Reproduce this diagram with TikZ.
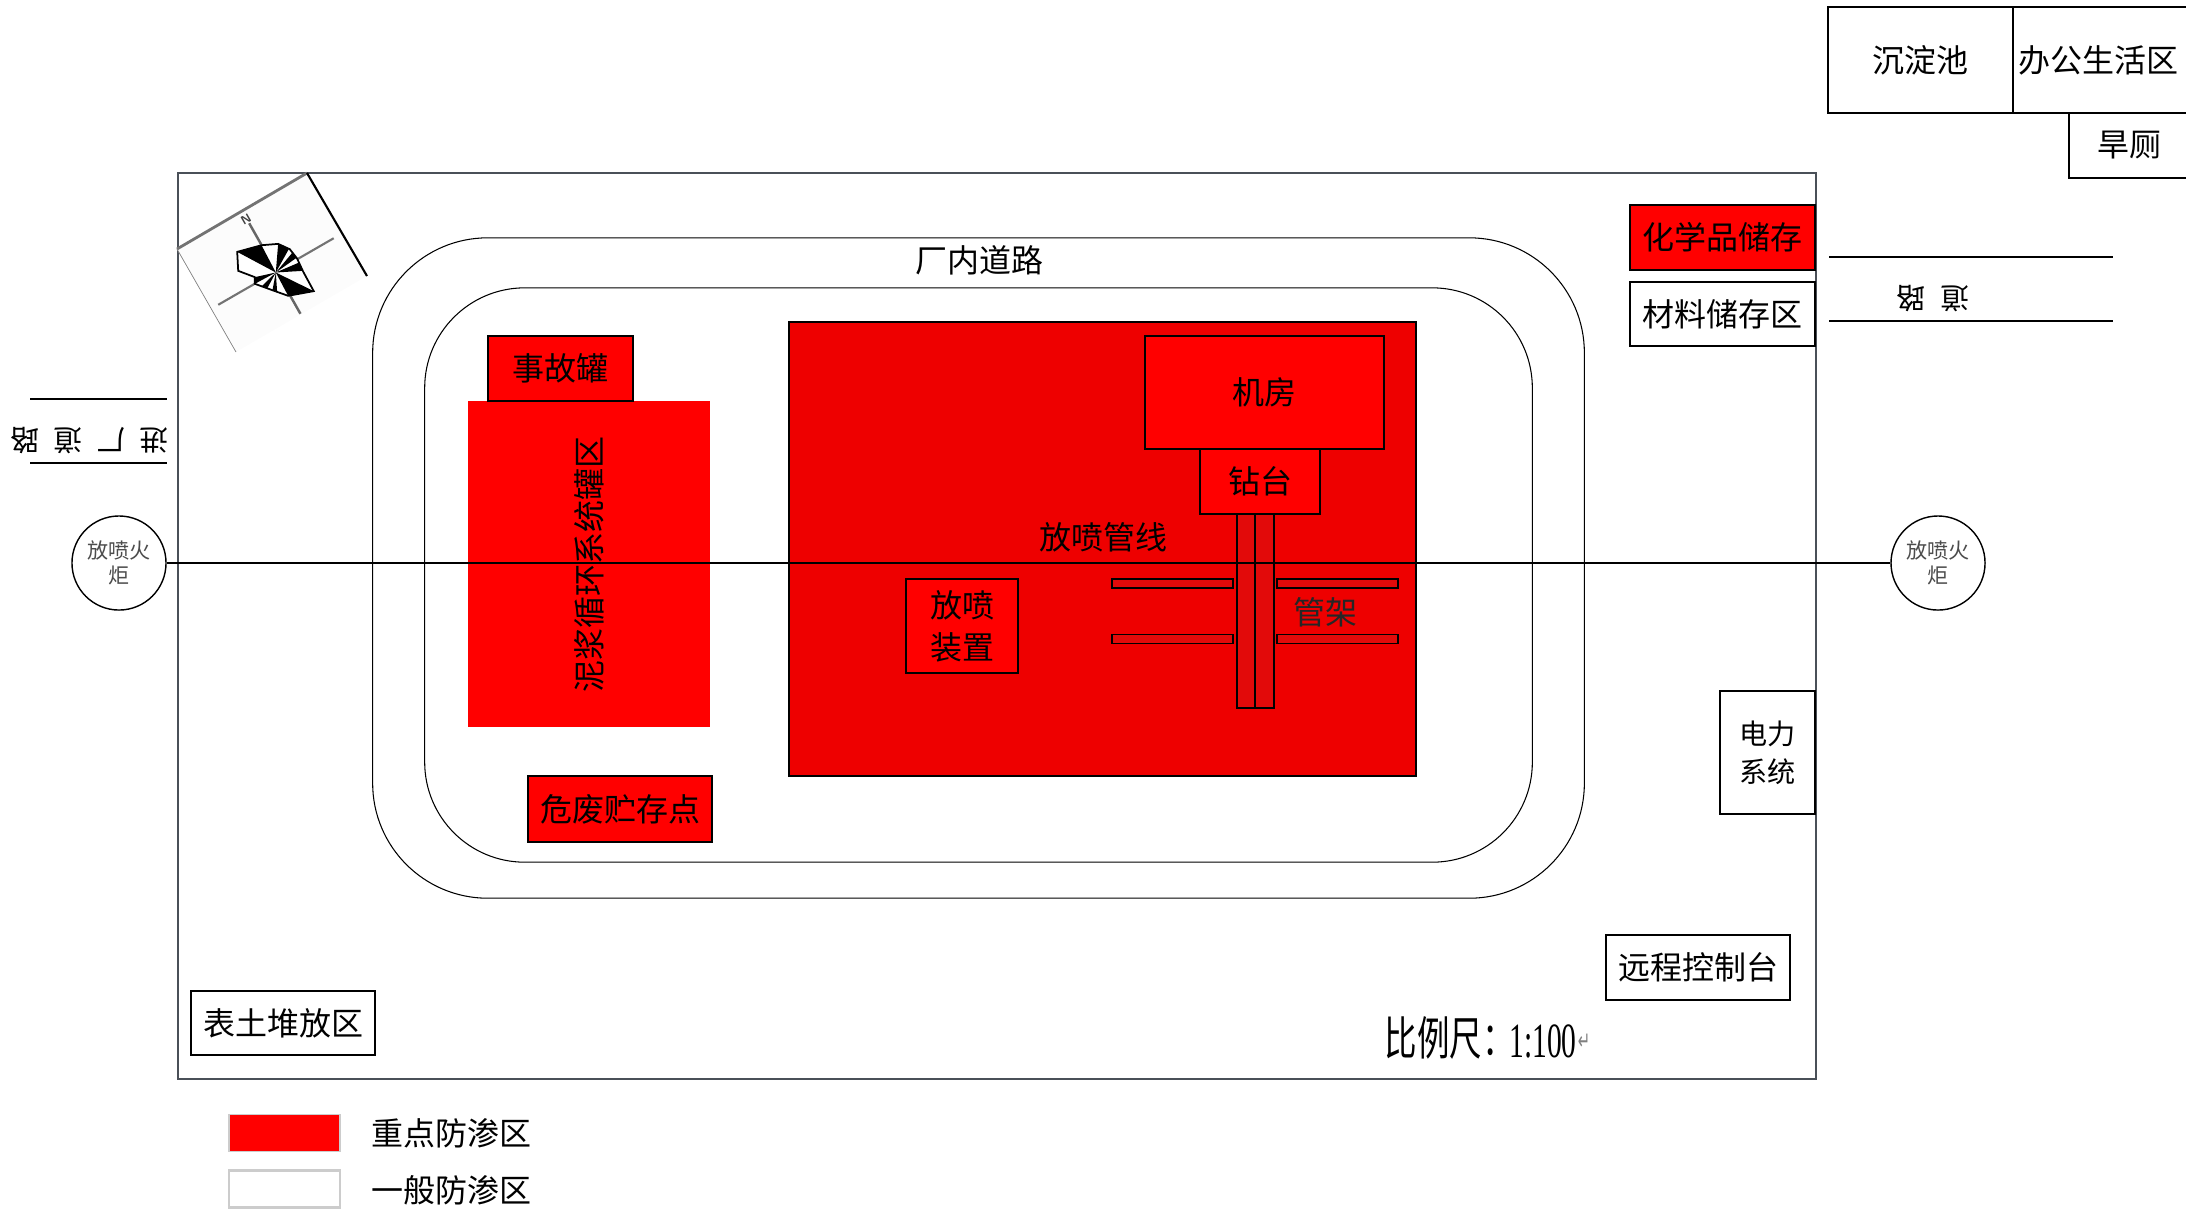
\documentclass[tikz,border=0pt]{standalone}
\usepackage{fontspec}
\setmainfont{Liberation Serif}
\newfontfamily\cjk{Noto Sans CJK SC}
\newfontfamily\symbolfont{DejaVu Sans}
\definecolor{mainred}{HTML}{EE0000}
\definecolor{rackred}{HTML}{E20A0A}
\definecolor{framegray}{HTML}{4A5058}
\begin{document}
\begin{tikzpicture}[x=0.01cm,y=-0.01cm]
        \tikzset{label/.style = {font=\cjk\fontsize{9.1}{12}\selectfont,align=center,inner sep=0pt}};
        \tikzset{whitebox/.style = {label,shape=rectangle,draw,line width=0.7pt,fill=white}};
        \tikzset{redbox/.style = {whitebox,fill=red}};
        \tikzset{flare/.style = {shape=circle,draw,line width=0.4pt,fill=white,minimum size=0.94cm,inner sep=0pt,align=center,text=black!70,font=\cjk\fontsize{6}{7.2}\selectfont}};
        \tikzset{road/.style = {shape=rectangle,draw,line width=0.3pt,rounded corners=1.15cm}};
        \tikzset{rack/.style = {shape=rectangle,draw,line width=0.4pt,fill=rackred,inner sep=0pt}};
        \tikzset{roadline/.style = {line width=0.8pt}};
        \tikzset{roadname/.style = {label,rotate=180,font=\cjk\fontsize{8.2}{10}\selectfont}};
        \useasboundingbox (0,0) rectangle (2186,1211);
        % site
        \node[shape=rectangle,draw=framegray,line width=0.5pt,minimum width=16.37cm,minimum height=9.06cm] (site) at (997,626) {};
        \node[road,minimum width=12.11cm,minimum height=6.6cm] (outer) at (978.5,568) {};
        \node[road,minimum width=11.07cm,minimum height=5.74cm,rounded corners=1cm] (inner) at (978.5,575) {};
        \node[label] (roadtext) at (979,260) {厂内道路};
        % hazard areas
        \node[shape=rectangle,fill=red,minimum width=2.42cm,minimum height=3.26cm] (tanks) at (589,564) {};
        \node[label,rotate=90] (tankname) at (589,564) {泥浆循环系统罐区};
        \node[redbox,minimum width=1.45cm,minimum height=0.65cm] (accident) at (560.5,368.5) {事故罐};
        \node[shape=rectangle,draw,line width=0.7pt,fill=mainred,minimum width=6.27cm,minimum height=4.54cm] (well) at (1102.5,549) {};
        \node[redbox,minimum width=2.39cm,minimum height=1.13cm] (engine) at (1264.5,392.5) {机房};
        \node[redbox,minimum width=1.2cm,minimum height=0.65cm] (rig) at (1260,481.5) {钻台};
        \node[redbox,minimum width=1.12cm,minimum height=0.94cm] (blowout) at (962,626) {放喷\\装置};
        \node[redbox,minimum width=1.84cm,minimum height=0.66cm] (waste) at (620,809) {危废贮存点};
        % pipe racks
        \node[rack,minimum width=0.37cm,minimum height=1.94cm] (rackv) at (1255.5,611) {};
        \node[rack,minimum width=1.21cm,minimum height=0.09cm] (rack1) at (1172.5,583.5) {};
        \node[rack,minimum width=1.21cm,minimum height=0.09cm] (rack2) at (1172.5,639) {};
        \node[rack,minimum width=1.21cm,minimum height=0.09cm] (rack3) at (1337.5,583.5) {};
        \node[rack,minimum width=1.21cm,minimum height=0.09cm] (rack4) at (1337.5,639) {};
        \node[label,text=black!85] (rackname) at (1325,612) {管架};
        \coordinate (rackend) at (1255,708);
        \coordinate (racktop) at (1255,514);
        \draw[line width=0.75pt] (racktop) to (rackend);
        % flare line
        \node[flare] (flarel) at (119,563) {放喷火\\炬};
        \node[flare] (flarer) at (1938,563) {放喷火\\炬};
        \draw[line width=0.75pt] (flarel) to (flarer);
        \node[label] (linename) at (1103,537) {放喷管线};
        % other boxes
        \node[redbox,minimum width=1.85cm,minimum height=0.65cm] (chem) at (1722.5,237.5) {化学品储存};
        \node[whitebox,minimum width=1.85cm,minimum height=0.64cm] (store) at (1722.5,314) {材料储存区};
        \node[whitebox,font=\cjk\fontsize{8}{10.7}\selectfont,minimum width=0.95cm,minimum height=1.23cm] (power) at (1767.5,752.5) {电力\\系统};
        \node[whitebox,minimum width=1.84cm,minimum height=0.65cm] (remote) at (1698,967.5) {远程控制台};
        \node[whitebox,minimum width=1.84cm,minimum height=0.64cm] (topsoil) at (283,1023) {表土堆放区};
        \node[whitebox,minimum width=1.85cm,minimum height=1.06cm] (pond) at (1920.5,60) {沉淀池};
        \node[whitebox,minimum width=1.77cm,minimum height=1.06cm] (office) at (2101.5,60) {办公生活区\hspace{0.07cm}};
        \node[whitebox,minimum width=1.2cm,minimum height=0.65cm] (toilet) at (2129,145.5) {旱厕};
        % roads outside
        \coordinate (lineA) at (30,399);
        \coordinate (lineB) at (167,399);
        \coordinate (lineC) at (30,463);
        \coordinate (lineD) at (167,463);
        \draw[roadline] (lineA) to (lineB);
        \draw[roadline] (lineC) to (lineD);
        \node[roadname] (entry) at (89.5,441) {进\hspace{0.5em}厂\hspace{0.5em}道\hspace{0.5em}路};
        \coordinate (lineE) at (1829,257);
        \coordinate (lineF) at (2113,257);
        \coordinate (lineG) at (1829,321);
        \coordinate (lineH) at (2113,321);
        \draw[roadline] (lineE) to (lineF);
        \draw[roadline] (lineG) to (lineH);
        \node[roadname] (rightroad) at (1933,299) {道\hspace{0.5em}路};
        % scale
        \node[inner sep=0pt,font=\cjk\fontsize{13.2}{15}\selectfont,xscale=0.70,anchor=base west] (scale) at (1384,1055) {比例尺：};
        \node[inner sep=0pt,font=\fontsize{14}{16}\selectfont,xscale=0.6,anchor=base west] (scalenum) at (1509,1057) {1:100};
        \node[inner sep=0pt,font=\symbolfont\fontsize{7}{7}\selectfont,xscale=0.6,text=gray] (mark) at (1584,1042) {↵};
        % legend
        \node[shape=rectangle,draw=black!20,line width=0.4pt,fill=red,minimum width=1.11cm,minimum height=0.37cm] (legred) at (284.5,1133) {};
        \node[shape=rectangle,draw=black!20,line width=0.6pt,fill=white,minimum width=1.11cm,minimum height=0.37cm] (legwhite) at (284.5,1189) {};
        \node[label] (legredname) at (451,1133) {重点防渗区};
        \node[label] (legwhitename) at (451,1190) {一般防渗区};
        % compass
        \fill[black!1] (307,173) -- (177,249) -- (236,352) -- (367,276) -- cycle;
        \draw[line width=0.8pt,black!55] (177,249) -- (307,173);
        \draw[line width=0.6pt] (307,173) -- (367,276);
        \draw[line width=0.2pt,black!50] (177,249) -- (236,352);
        \begin{scope}[shift={(160,160)},x=0.003333cm,y=-0.003333cm]
        \draw[line width=0.7pt,black!60] (268,190) -- (422,462);
        \draw[line width=0.6pt,black!55] (522,235) -- (175,435);
        \fill[white] (232,276) -- (305,256) -- (355,252) -- (390,268) -- (412,296) -- (430,335) -- (462,394) -- (385,408) -- (340,392) -- (285,372) -- (285,352) -- (235,333) -- cycle;
        \fill (232,276) -- (305,256) -- (348,338) -- cycle;
        \fill (462,394) -- (385,408) -- (348,338) -- cycle;
        \fill (355,252) -- (388,266) -- (348,338) -- cycle;
        \fill (398,278) -- (410,294) -- (348,338) -- cycle;
        \fill (418,308) -- (430,333) -- (348,338) -- cycle;
        \fill (285,352) -- (285,372) -- (348,338) -- cycle;
        \fill (305,380) -- (322,386) -- (348,338) -- cycle;
        \fill (338,391) -- (352,397) -- (348,338) -- cycle;
        \draw[line width=0.5pt] (232,276) -- (305,256) -- (355,252) -- (390,268) -- (412,296) -- (430,335) -- (462,394) -- (385,408) -- (340,392) -- (285,372) -- (285,352) -- (235,333) -- cycle;
        \node[inner sep=0pt,rotate=30,font=\sffamily\bfseries\fontsize{3.5}{4}\selectfont,text=black!75] (north) at (258,177) {N};
        \end{scope}
    \end{tikzpicture}
\end{document}
